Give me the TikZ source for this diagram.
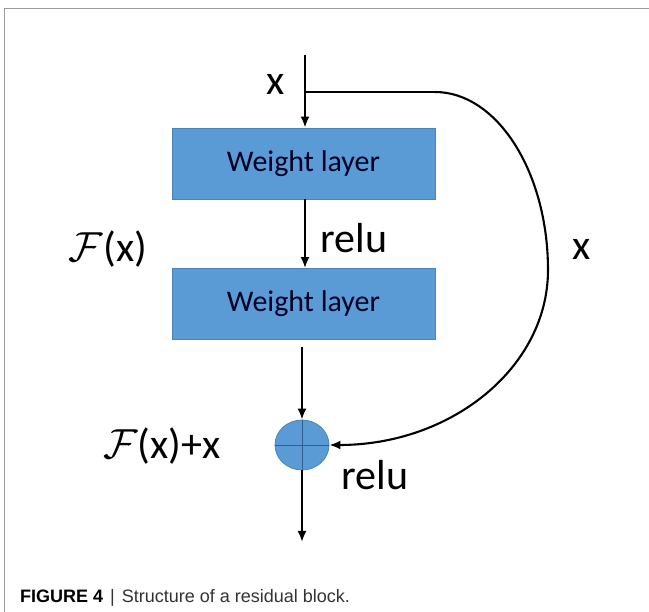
\RequirePackage{fix-cm}
\documentclass[tikz,border=0pt]{standalone}
\usepackage{fontspec}
\setmainfont{Carlito}
\newfontfamily\capfont{Liberation Sans}
\usetikzlibrary{arrows.meta,shapes.geometric}
\DeclareMathSizes{42}{42}{30}{24}
\definecolor{boxblue}{HTML}{5B9BD5}
\definecolor{boxedge}{HTML}{4A84B8}
\definecolor{crossblue}{HTML}{2F5F8F}
\definecolor{frameg}{HTML}{9A9A9A}
\definecolor{captxt}{HTML}{333333}
\begin{document}
\begin{tikzpicture}[x=1pt,y=-1pt,
  conn/.style={line width=2.1pt,draw=black},
  arr/.style={conn,-{Latex[length=11pt,width=9pt]}},
  layerbox/.style={draw=boxedge,line width=0.8pt,fill=boxblue,minimum width=263pt,minimum height=71pt,inner sep=0pt,text=black!85!blue,font=\fontsize{30}{34}\selectfont},
  lbl/.style={inner sep=0pt,font=\fontsize{42}{48}\selectfont},
  sumnode/.style={ellipse,draw=boxedge,line width=0.8pt,fill=boxblue,minimum width=54pt,minimum height=50pt,inner sep=0pt}]
\useasboundingbox (0,0) rectangle (649,612);
\fill[white] (0,0) rectangle (649,612);
\draw[frameg,line width=1.2pt] (4.5,612) -- (4.5,8.5) -- (649,8.5);
% nodes
\coordinate (in) at (305,55);
\coordinate (br) at (305,92);
\coordinate (bend) at (435,92);
\coordinate (far) at (548,270);
\node[layerbox] (w1) at (303.5,163.5) {Weight layer};
\node[layerbox] (w2) at (303.5,304) {Weight layer};
\node[sumnode] (s) at (302,445) {};
\coordinate (out) at (302,542);
\coordinate (w2out) at (302,347);
\draw[crossblue,line width=0.8pt] (s.north) -- (s.south) (s.west) -- (s.east);
% connectors
\draw[arr] (in) -- (w1.north -| in);
\draw[conn] (br) -- (bend);
\draw[arr] (bend) .. controls (497,92) and (548,172) .. (far)
  .. controls (548,367) and (452,445) .. (s.east);
\draw[arr] (w1.south -| in) -- (w2.north -| in);
\draw[arr] (w2out) -- (s.north);
\draw[arr] (s.south) -- (out);
% labels
\node[lbl] (lx) at (276,84) {x};
\node[lbl] (lrelu1) at (354,238) {relu};
\node[lbl] (lx2) at (582,249) {x};
\node[lbl] (lF) at (108,249) {$\mathcal{F}$(x)};
\node[lbl] (lFx) at (162,446) {$\mathcal{F}$(x)+x};
\node[lbl] (lrelu2) at (375,475) {relu};
\node[anchor=base west,inner sep=0pt,font=\capfont\fontsize{18}{22}\selectfont,text=captxt] (cap) at (20,603)
  {\textbf{\color{black}FIGURE 4}\hspace{7pt}|\hspace{7pt}Structure of a residual block.};
\end{tikzpicture}
\end{document}
